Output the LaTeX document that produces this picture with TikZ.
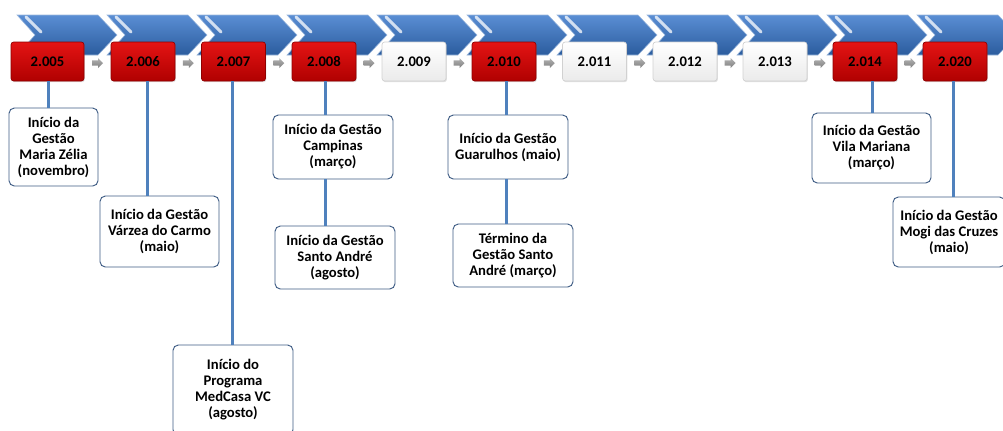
\documentclass[tikz,border=0pt]{standalone}
\usepackage{fontspec}
\setmainfont{Carlito}
\usetikzlibrary{calc,shadows}
\definecolor{chevtop}{HTML}{5A8ED4}
\definecolor{chevbot}{HTML}{2B5C9E}
\definecolor{chevedge}{HTML}{9DB9DE}
\definecolor{redtop}{HTML}{E41414}
\definecolor{redbot}{HTML}{B00000}
\definecolor{rededge}{HTML}{8E0000}
\definecolor{connblue}{HTML}{4F81BD}
\definecolor{calloutedge}{HTML}{3E5C84}
\begin{document}
\begin{tikzpicture}[x=0.75pt,y=-0.75pt,
  yearbox/.style={rounded corners=2pt, minimum width=48pt, minimum height=29.25pt,
    inner sep=0pt, font=\bfseries\fontsize{11}{12}\selectfont,
    drop shadow={opacity=0.25, shadow xshift=0.6pt, shadow yshift=-0.9pt}},
  redbox/.style={yearbox, draw=rededge, line width=0.5pt, top color=redtop, bottom color=redbot},
  whitebox/.style={yearbox, draw=black!18, line width=0.5pt, top color=white, bottom color=black!8},
  callout/.style={draw=calloutedge, line width=0.7pt, rounded corners=4pt, fill=white,
    align=center, inner sep=0pt, font=\bfseries\fontsize{11}{12}\selectfont},
  conn/.style={draw=connblue, line width=2.25pt},
  garrow/.pic={\path[top color=black!30, bottom color=black!50]
    (-5.5,-2.6) -- (0.5,-2.6) -- (0.5,-5) -- (5.5,0) -- (0.5,5) -- (0.5,2.6) -- (-5.5,2.6) -- cycle;}
]
\useasboundingbox (0,0) rectangle (1003,430);
\clip (0,0) rectangle (1003,430);
% chevrons
\foreach \i in {0,...,10}{
  \pgfmathsetmacro\xo{17+90*\i}
  \path[top color=chevtop, bottom color=chevbot, draw=chevedge, line width=0.4pt]
    (\xo,15) -- ++(81,0) -- ++(19,20) -- ++(-19,20) -- ++(-81,0) -- ++(18,-20) -- cycle;
  \draw[white, opacity=0.75, line width=2.2pt, line cap=round] (\xo+9,17) -- (\xo+24,32);
}
% year boxes
\node[redbox, minimum width=54.75pt] (b1) at (47.5,61.5) {2.005};
\node[redbox] (b2) at (143,61.5) {2.006};
\node[redbox] (b3) at (233.5,61.5) {2.007};
\node[redbox] (b4) at (324,61.5) {2.008};
\node[whitebox] (b5) at (414,61.5) {2.009};
\node[redbox] (b6) at (504,61.5) {2.010};
\node[whitebox] (b7) at (594.5,61.5) {2.011};
\node[whitebox] (b8) at (685,61.5) {2.012};
\node[whitebox] (b9) at (775,61.5) {2.013};
\node[redbox] (b10) at (865,61.5) {2.014};
\node[redbox] (b11) at (955,61.5) {2.020};
% small gray arrows
\foreach \a/\b in {b1/b2,b2/b3,b3/b4,b4/b5,b5/b6,b6/b7,b7/b8,b8/b9,b9/b10,b10/b11}{
  \path ($(\a.east)!0.5!(\b.west)+(0,1.5)$) pic{garrow};
}
% callouts
\node[callout, minimum width=66.75pt, minimum height=58.5pt] (c1) at (53.5,147)
  {Início da\\Gestão\\Maria Zélia\\(novembro)};
\node[callout, minimum width=89.25pt, minimum height=53.25pt] (c2) at (159.5,231.5)
  {Início da Gestão\\Várzea do Carmo\\(maio)};
\node[callout, minimum width=90pt, minimum height=67.5pt] (c3) at (233,390)
  {Início do\\Programa\\MedCasa VC\\(agosto)};
\node[callout, minimum width=90pt, minimum height=48pt] (c4) at (333,147)
  {Início da Gestão\\Campinas\\(março)};
\node[callout, minimum width=90pt, minimum height=47.25pt] (c5) at (335,257.5)
  {Início da Gestão\\Santo André\\(agosto)};
\node[callout, minimum width=90pt, minimum height=48pt] (c6) at (508,147)
  {Início da Gestão\\Guarulhos (maio)};
\node[callout, minimum width=90pt, minimum height=47.25pt] (c7) at (513,255.5)
  {Término da\\Gestão Santo\\André (março)};
\node[callout, minimum width=89.25pt, minimum height=52.5pt] (c8) at (871.5,148)
  {Início da Gestão\\Vila Mariana\\(março)};
\node[callout, minimum width=84pt, minimum height=52.5pt] (c9) at (949,232)
  {Início da Gestão\\Mogi das Cruzes\\(maio)};
% connectors
\draw[conn] ([xshift=1.1pt]b1.south) -- ([xshift=1.1pt]b1.south |- c1.north);
\draw[conn] ([xshift=3pt]b2.south) -- ([xshift=3pt]b2.south |- c2.north);
\draw[conn] ([xshift=-1.1pt]b3.south) -- ([xshift=-1.1pt]b3.south |- c3.north);
\draw[conn] ([xshift=0.75pt]b4.south) -- ([xshift=0.75pt]b4.south |- c4.north);
\draw[conn] ([xshift=0.75pt]b4.south |- c4.south) -- ([xshift=0.75pt]b4.south |- c5.north);
\draw[conn] ([xshift=1.5pt]b6.south) -- ([xshift=1.5pt]b6.south |- c6.north);
\draw[conn] ([xshift=1.5pt]b6.south |- c6.south) -- ([xshift=1.5pt]b6.south |- c7.north);
\draw[conn] ([xshift=5.25pt]b10.south) -- ([xshift=5.25pt]b10.south |- c8.north);
\draw[conn] ([xshift=-1.5pt]b11.south) -- ([xshift=-1.5pt]b11.south |- c9.north);
\end{tikzpicture}
\end{document}
